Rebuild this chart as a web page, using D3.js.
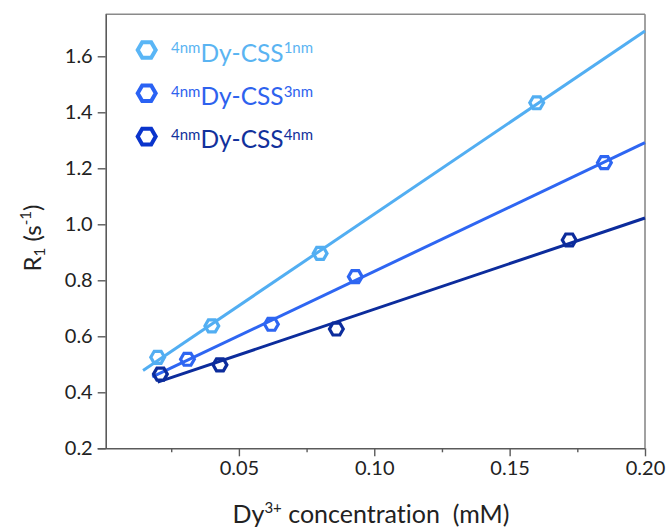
<!DOCTYPE html>
<html>
<head>
<meta charset="utf-8">
<script src="https://cdn.jsdelivr.net/npm/d3@7"></script>
<style>
  html, body { margin: 0; padding: 0; background: #fff; }
  svg { display: block; }
  text { font-family: Lato, "Open Sans", sans-serif; white-space: pre; font-variant-ligatures: none; }
</style>
</head>
<body>
<svg id="chart" width="670" height="530"></svg>
<script>
// Relaxation rate R1 versus Dy3+ concentration for three shell thicknesses
const seriesNames = ["1nm", "3nm", "4nm"];
const conc1nm = [0.020, 0.040, 0.080, 0.160];
const r1_1nm  = [0.525, 0.637, 0.896, 1.434];
const conc3nm = [0.031, 0.062, 0.093, 0.185];
const r1_3nm  = [0.518, 0.643, 0.813, 1.220];
const conc4nm = [0.021, 0.043, 0.086, 0.172];
const r1_4nm  = [0.465, 0.498, 0.626, 0.944];
// concentration range covered by each fitted line
const fitFrom = [0.0146, 0.018, 0.020];
const fitTo   = [0.200, 0.200, 0.200];

const xMajorTicks = [0.05, 0.10, 0.15, 0.20];
const xMinorTicks = [0.025, 0.075, 0.125, 0.175];
const yTicks = [0.2, 0.4, 0.6, 0.8, 1.0, 1.2, 1.4, 1.6];

const lineColors   = ["#52aef2", "#2e66f2", "#0c2c9c"];
const markerColors = ["#52aef2", "#2e66f2", "#0c2c9c"];
const legendMarkerColors = ["#5ab6f6", "#2a62f4", "#0a34cc"];
const legendTextColors   = ["#5ab4f2", "#2e62ee", "#12319c"];

const svg = d3.select("#chart");
const plotLeft = 105.7, plotRight = 645, plotTop = 14.3, plotBottom = 448.3;

const x = d3.scaleLinear().domain([0.0008, 0.2]).range([plotLeft, plotRight]);
const y = d3.scaleLinear().domain([0.2, 1.75]).range([plotBottom, plotTop]);

const series = [
  { xs: conc1nm, ys: r1_1nm },
  { xs: conc3nm, ys: r1_3nm },
  { xs: conc4nm, ys: r1_4nm }
];

// least-squares straight line through each series
function linFit(xs, ys) {
  const mx = d3.mean(xs), my = d3.mean(ys);
  let sxy = 0, sxx = 0;
  xs.forEach((v, i) => { sxy += (v - mx) * (ys[i] - my); sxx += (v - mx) * (v - mx); });
  const slope = sxy / sxx;
  return { slope, intercept: my - slope * mx };
}

// frame: top and right borders
svg.append("line").attr("x1", plotLeft).attr("x2", plotRight).attr("y1", plotTop).attr("y2", plotTop)
  .attr("stroke", "#8a8a8a").attr("stroke-width", 1.6);
svg.append("line").attr("x1", plotRight).attr("x2", plotRight).attr("y1", plotTop).attr("y2", plotBottom)
  .attr("stroke", "#8a8a8a").attr("stroke-width", 1.6);

// x axis with major labelled ticks
const xAxis = d3.axisBottom(x).tickValues(xMajorTicks).tickSize(8).tickSizeOuter(0)
  .tickFormat(d3.format(".2f"));
const gx = svg.append("g").attr("transform", `translate(0,${plotBottom})`).call(xAxis);
gx.select(".domain").attr("stroke", "#5a5a5a").attr("stroke-width", 1.6)
  .attr("d", `M${plotLeft - 8},0.5H${plotRight}`);
gx.selectAll(".tick line").attr("stroke", "#5a5a5a").attr("stroke-width", 1.4);
gx.selectAll(".tick text").attr("font-size", 20).attr("fill", "#222")
  .attr("font-family", "Lato, sans-serif").attr("dy", "0.95em").attr("y", 8);
// minor x ticks
const xMinor = d3.axisBottom(x).tickValues(xMinorTicks).tickSize(4).tickFormat("");
const gxm = svg.append("g").attr("transform", `translate(0,${plotBottom})`).call(xMinor);
gxm.select(".domain").remove();
gxm.selectAll(".tick line").attr("stroke", "#5a5a5a").attr("stroke-width", 1.4);

// y axis
const yAxis = d3.axisLeft(y).tickValues(yTicks).tickSize(8).tickSizeOuter(0)
  .tickFormat(d3.format(".1f"));
const gy = svg.append("g").attr("transform", `translate(${plotLeft},0)`).call(yAxis);
gy.select(".domain").attr("stroke", "#5a5a5a").attr("stroke-width", 1.6)
  .attr("d", `M0.5,${plotTop}V${plotBottom}`);
gy.selectAll(".tick line").attr("stroke", "#5a5a5a").attr("stroke-width", 1.4);
gy.selectAll(".tick text").attr("font-size", 20).attr("fill", "#222")
  .attr("font-family", "Lato, sans-serif").attr("x", -13);

// fitted lines
series.forEach((s, i) => {
  const f = linFit(s.xs, s.ys);
  const pts = [fitFrom[i], fitTo[i]].map(c => [x(c), y(f.intercept + f.slope * c)]);
  svg.append("path").attr("d", d3.line()(pts))
    .attr("fill", "none").attr("stroke", lineColors[i]).attr("stroke-width", 3);
});

// flat-topped hexagon outline centred on the origin
function hexPath(r) {
  const p = d3.range(6).map(k => [r * Math.cos(k * Math.PI / 3), r * Math.sin(k * Math.PI / 3)]);
  return "M" + p.map(q => q.join(",")).join("L") + "Z";
}

// data markers
series.forEach((s, i) => {
  svg.append("g").selectAll("path").data(s.xs.map((v, k) => [v, s.ys[k]])).join("path")
    .attr("d", hexPath(6.9))
    .attr("transform", d => `translate(${x(d[0])},${y(d[1])})`)
    .attr("fill", "none")
    .attr("stroke", markerColors[i]).attr("stroke-width", 3.2);
});

// legend
const legend = svg.append("g");
seriesNames.forEach((name, i) => {
  const cy = 50 + i * 43.3;
  legend.append("path").attr("d", hexPath(9))
    .attr("transform", `translate(146.7,${cy})`)
    .attr("fill", "none").attr("stroke", legendMarkerColors[i]).attr("stroke-width", 4);
  const t = legend.append("text").attr("x", 171).attr("y", cy + 11.7)
    .attr("fill", legendTextColors[i]);
  t.append("tspan").attr("font-size", 15).attr("dy", -8.5).text("4nm");
  t.append("tspan").attr("font-size", 24.5).attr("dy", 8.5).text("Dy-CSS");
  t.append("tspan").attr("font-size", 15).attr("dy", -8.5).text(name);
});

// x axis title
const xt = svg.append("text").attr("x", 371).attr("y", 523)
  .attr("text-anchor", "middle").attr("fill", "#222");
xt.append("tspan").attr("font-size", 25).text("Dy");
xt.append("tspan").attr("font-size", 15).attr("dy", -10).text("3+");
xt.append("tspan").attr("font-size", 25).attr("dy", 10).text(" concentration  (mM)");

// y axis title
const yt = svg.append("text").attr("transform", "translate(41,238) rotate(-90)")
  .attr("text-anchor", "middle").attr("fill", "#222");
yt.append("tspan").attr("font-size", 24).text("R");
yt.append("tspan").attr("font-size", 15).attr("dy", 4).text("1");
yt.append("tspan").attr("font-size", 24).attr("dy", -4).text(" (s");
yt.append("tspan").attr("font-size", 15).attr("dy", -10).text("-1");
yt.append("tspan").attr("font-size", 24).attr("dy", 10).text(")");
</script>
</body>
</html>
